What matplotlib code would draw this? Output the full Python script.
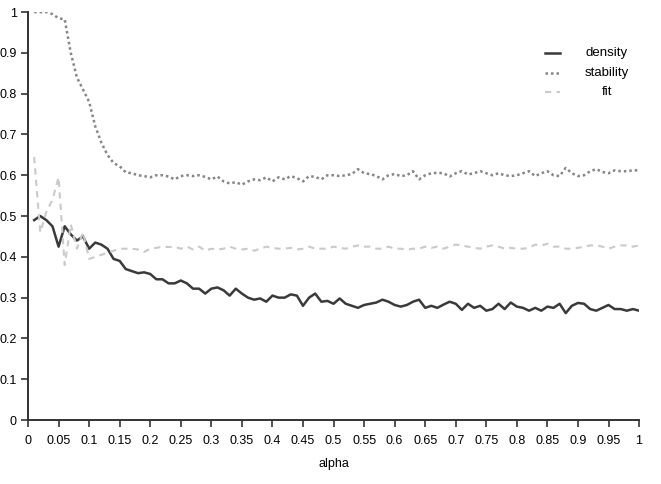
import numpy as np
import matplotlib
matplotlib.use('Agg')
import matplotlib.pyplot as plt

# alpha values 0.01 .. 1.00
alpha = [round(0.01 * i, 2) for i in range(1, 101)]

density = [0.490, 0.500, 0.490, 0.475, 0.425, 0.475, 0.455, 0.440, 0.450, 0.420,
           0.435, 0.430, 0.420, 0.395, 0.390, 0.370, 0.365, 0.360, 0.362, 0.358,
           0.345, 0.345, 0.335, 0.335, 0.342, 0.335, 0.322, 0.322, 0.310, 0.322,
           0.325, 0.318, 0.305, 0.322, 0.310, 0.300, 0.295, 0.298, 0.290, 0.305,
           0.300, 0.300, 0.308, 0.305, 0.280, 0.300, 0.310, 0.290, 0.292, 0.285,
           0.298, 0.285, 0.280, 0.275, 0.282, 0.285, 0.288, 0.295, 0.290, 0.282,
           0.278, 0.282, 0.290, 0.295, 0.275, 0.280, 0.275, 0.283, 0.290, 0.285,
           0.270, 0.285, 0.275, 0.280, 0.268, 0.272, 0.285, 0.272, 0.288, 0.278,
           0.275, 0.268, 0.275, 0.268, 0.278, 0.275, 0.285, 0.262, 0.280, 0.287,
           0.285, 0.272, 0.268, 0.275, 0.282, 0.272, 0.272, 0.268, 0.272, 0.268]

stability = [1.000, 1.000, 1.000, 0.995, 0.985, 0.982, 0.900, 0.840, 0.810, 0.780,
             0.720, 0.680, 0.650, 0.630, 0.622, 0.607, 0.605, 0.600, 0.598, 0.595,
             0.600, 0.600, 0.597, 0.590, 0.598, 0.600, 0.598, 0.600, 0.596, 0.590,
             0.597, 0.585, 0.580, 0.583, 0.577, 0.585, 0.590, 0.588, 0.595, 0.585,
             0.595, 0.590, 0.598, 0.593, 0.585, 0.598, 0.596, 0.590, 0.600, 0.600,
             0.598, 0.600, 0.603, 0.615, 0.605, 0.603, 0.598, 0.590, 0.600, 0.603,
             0.598, 0.600, 0.610, 0.590, 0.600, 0.605, 0.606, 0.605, 0.597, 0.605,
             0.610, 0.602, 0.605, 0.610, 0.605, 0.600, 0.605, 0.600, 0.598, 0.600,
             0.605, 0.610, 0.598, 0.605, 0.610, 0.600, 0.598, 0.618, 0.605, 0.598,
             0.600, 0.610, 0.615, 0.608, 0.605, 0.612, 0.610, 0.610, 0.612, 0.612]

fit = [0.645, 0.460, 0.510, 0.540, 0.595, 0.380, 0.480, 0.420, 0.460, 0.395,
       0.400, 0.405, 0.410, 0.415, 0.420, 0.420, 0.420, 0.418, 0.412, 0.420,
       0.422, 0.425, 0.424, 0.425, 0.420, 0.425, 0.418, 0.425, 0.415, 0.420,
       0.418, 0.420, 0.425, 0.420, 0.418, 0.420, 0.415, 0.420, 0.425, 0.422,
       0.420, 0.420, 0.422, 0.418, 0.420, 0.425, 0.420, 0.420, 0.420, 0.425,
       0.422, 0.420, 0.425, 0.428, 0.425, 0.425, 0.420, 0.420, 0.425, 0.420,
       0.420, 0.418, 0.420, 0.420, 0.425, 0.422, 0.425, 0.420, 0.425, 0.430,
       0.428, 0.425, 0.422, 0.420, 0.425, 0.428, 0.425, 0.420, 0.422, 0.420,
       0.420, 0.422, 0.430, 0.428, 0.432, 0.425, 0.425, 0.420, 0.420, 0.422,
       0.425, 0.428, 0.428, 0.425, 0.420, 0.425, 0.428, 0.428, 0.425, 0.428]

xticks = [round(0.05 * i, 2) for i in range(21)]
xtick_labels = ['0', '0.05', '0.1', '0.15', '0.2', '0.25', '0.3', '0.35', '0.4', '0.45', '0.5',
                '0.55', '0.6', '0.65', '0.7', '0.75', '0.8', '0.85', '0.9', '0.95', '1']
yticks = [round(0.1 * i, 1) for i in range(11)]
ytick_labels = ['0', '0.1', '0.2', '0.3', '0.4', '0.5', '0.6', '0.7', '0.8', '0.9', '1']

plt.rcParams['font.family'] = ['Liberation Sans', 'DejaVu Sans']

fig = plt.figure(figsize=(6.61, 4.84), dpi=100)
ax = fig.add_axes([0.0424, 0.1322, 0.9244, 0.8428])

styles = [
    ('density', density, dict(color='#3a3a3a', linewidth=1.8, linestyle='-')),
    ('stability', stability, dict(color='#858585', linewidth=1.8, linestyle=(0, (1, 1.2)))),
    ('fit', fit, dict(color='#cacaca', linewidth=1.5, linestyle=(0, (3, 2.5)))),
]
for name, vals, st in styles:
    ax.plot(alpha, vals, label=name, **st)

ax.set_xlim(0, 1)
ax.set_ylim(0, 1)
ax.set_xticks(xticks)
ax.set_xticklabels(xtick_labels)
ax.set_yticks(yticks)
ax.set_yticklabels(ytick_labels)
ax.tick_params(direction='out', length=5, width=1.2, colors='#333333', labelsize=9, labelcolor='black')
ax.tick_params(axis='x', pad=6)
ax.tick_params(axis='y', pad=3)
for s in ['top', 'right']:
    ax.spines[s].set_visible(False)
for s in ['left', 'bottom']:
    ax.spines[s].set_linewidth(1.4)
    ax.spines[s].set_color('#333333')

ax.set_xlabel('alpha', fontsize=9, labelpad=8)

# hand-made legend (labels centred like the original)
row_y = [0.899, 0.851, 0.805]
for (name, vals, st), y in zip(styles, row_y):
    ax.plot([0.846, 0.871], [y, y], transform=ax.transAxes, clip_on=False, **st)
    ax.text(0.9475, y, name, transform=ax.transAxes, ha='center', va='center', fontsize=9.5)

plt.savefig('out.png', dpi=100)
